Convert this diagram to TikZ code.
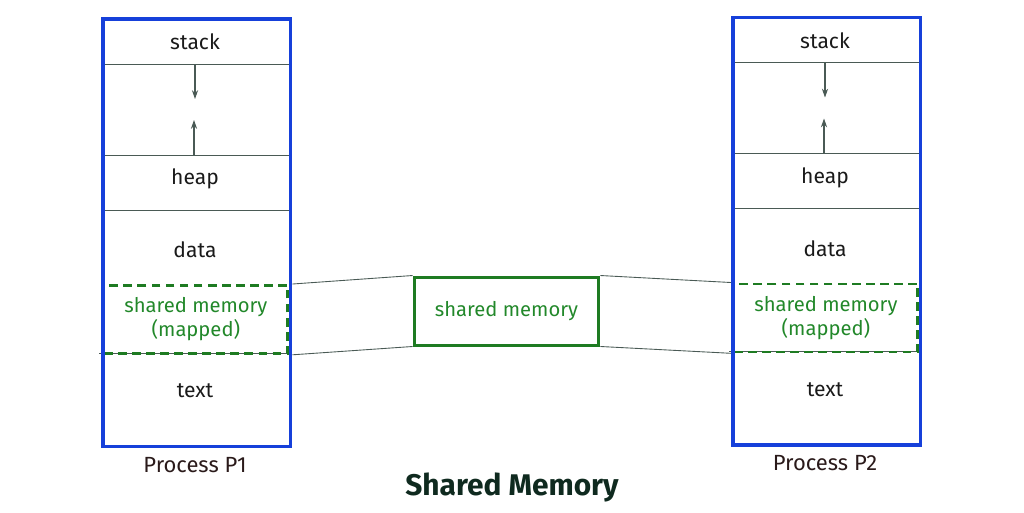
\documentclass[tikz,border=0pt]{standalone}
\usepackage{fontspec}
\setmainfont{Fira Sans}
\usetikzlibrary{arrows.meta}
\definecolor{procblue}{HTML}{1640DA}
\definecolor{shmgreen}{HTML}{1E7B22}
\definecolor{shmtext}{HTML}{22882A}
\definecolor{labeltext}{HTML}{1A1A1A}
\definecolor{captext}{HTML}{2A1A1A}
\definecolor{titletext}{HTML}{0F2A1F}
\definecolor{sepgray}{HTML}{4A5A55}
\tikzset{
  procbox/.style={draw=procblue,line width=2pt,minimum width=3.76cm,minimum height=8.56cm,inner sep=0pt},
  mapbox/.style={draw=shmgreen,line width=1.6pt,dash pattern=on 5pt off 3pt,minimum width=3.68cm,minimum height=1.36cm,inner sep=0pt,align=center,text=shmtext,font=\fontsize{11.5}{13.5}\selectfont},
  shmbox/.style={draw=shmgreen,line width=1.7pt,minimum width=3.7cm,minimum height=1.36cm,inner sep=0pt,text=shmtext,font=\fontsize{11.5}{13.5}\selectfont},
  segtext/.style={text=labeltext,font=\fontsize{12}{14}\selectfont},
  captext/.style={text=captext,font=\fontsize{12.5}{15}\selectfont},
  sepline/.style={draw=sepgray,line width=0.5pt},
  growarrow/.style={draw=sepgray,line width=0.6pt,-{Stealth[length=5pt,width=3.5pt]}},
  link/.style={draw=sepgray,line width=0.5pt}
}
\begin{document}
\begin{tikzpicture}[x=0.02cm,y=-0.02cm]
\useasboundingbox (0,0) rectangle (1024,512);
% the two processes
\foreach \x/\dy/\p/\lbl in {101/0/p1/P1,731/-1.5/p2/P2}{
  \begin{scope}[yshift=-\dy*0.02cm]
  % the separators
  \draw[sepline] (\x,64) -- (\x+188,64);
  \draw[sepline] (\x,155) -- (\x+188,155);
  \draw[sepline] (\x,210) -- (\x+188,210);
  \draw[sepline] (\x-2,353) -- (\x+188,353);
  % the segments
  \node[segtext] (\p stack) at (\x+94,42) {stack};
  \node[segtext] (\p heap) at (\x+94,179) {heap};
  \node[segtext] (\p data) at (\x+94,250) {data};
  \node[segtext] (\p text) at (\x+94,391) {text};
  \node[mapbox,anchor=north west] (\p map) at (\x+1.5,284) {shared memory\\(mapped)};
  % stack and heap grow towards each other
  \coordinate (\p down) at (\x+94,64);
  \coordinate (\p up) at (\x+93,155);
  \draw[growarrow] (\p down) -- ++(0,35);
  \draw[growarrow] (\p up) -- ++(0,-35);
  % the frame and its label
  \node[procbox,anchor=north west] (\p) at (\x,17) {};
  \node[captext] (\p label) at (\x+94,465) {Process \lbl};
  \end{scope}
}
% the shared segment
\node[shmbox] (shm) at (506.5,311) {shared memory};
\draw[link] (p1.east |- p1map.north) -- (shm.north west);
\draw[link] (p1.east |- p1map.south) -- (shm.south west);
\draw[link] (shm.north east) -- (p2.west |- p2map.north);
\draw[link] (shm.south east) -- (p2.west |- p2map.south);
% the title
\node[text=titletext,font=\fontsize{17}{20}\selectfont\bfseries] (title) at (512,487) {Shared Memory};
\end{tikzpicture}
\end{document}
